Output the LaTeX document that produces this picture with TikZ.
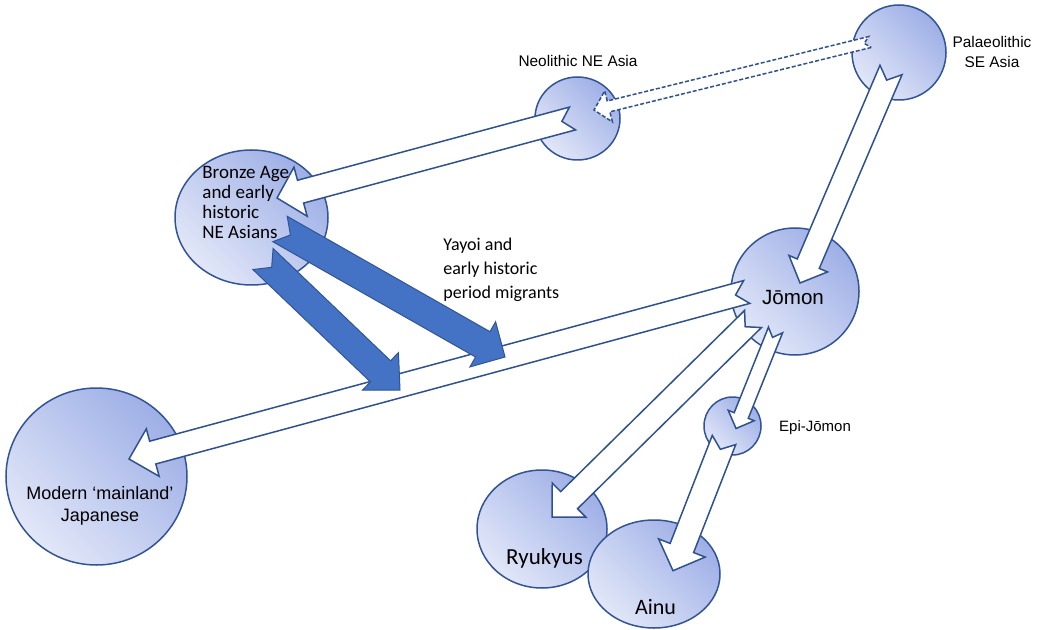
\documentclass[tikz,border=0pt]{standalone}
\usepackage{fontspec}
\setmainfont{Liberation Sans}
\newfontfamily\calibri{Carlito}
\usetikzlibrary{calc,shapes.geometric}

\definecolor{popedge}{RGB}{50,84,150}
\definecolor{poplight}{RGB}{226,231,248}
\definecolor{popdark}{RGB}{158,175,230}
\definecolor{flowedge}{RGB}{47,82,143}
\definecolor{migfill}{RGB}{68,114,196}
\definecolor{migedge}{RGB}{47,85,151}

% notched block arrow: [style] {tail} {tip} {half shaft} {half head} {head length} {notch}
\newcommand{\notcharrow}[7][]{%
  \coordinate (hb) at ($(#3)!#6!(#2)$);
  \draw[#1] ($(#2)!#4!90:(#3)$) -- ($(hb)!#4!-90:(#2)$) -- ($(hb)!#5!-90:(#2)$) -- (#3)
    -- ($(hb)!#5!90:(#2)$) -- ($(hb)!#4!90:(#2)$) -- ($(#2)!#4!-90:(#3)$)
    -- ($(#2)!#7!(#3)$) -- cycle;
}

\begin{document}
\begin{tikzpicture}
[x=0.5pt,y=-0.5pt
,pop/.style={ellipse,draw=popedge,line width=0.75pt,top color=popdark,bottom color=poplight,shading angle=-45,inner sep=0pt}
,flow/.style={draw=flowedge,fill=white,line width=0.75pt,line join=miter}
,guess/.style={flow,dash pattern=on 2pt off 1pt}
,mig/.style={draw=migedge,fill=migfill,line width=0.5pt,line join=miter}
,lbl/.style={inner sep=0pt,align=center}
,side/.style={inner sep=0pt,align=left,anchor=west}
]
\useasboundingbox (0,0) rectangle (1037,630);

% populations
\node[pop,minimum width=47pt,minimum height=47.5pt] (palaeo) at (899,52.5) {};
\node[pop,minimum width=42.5pt,minimum height=41.5pt] (neo) at (577.5,118.5) {};
\node[pop,minimum width=76.5pt,minimum height=67.5pt] (bronze) at (251.5,217.5) {};
\node[pop,minimum width=64pt,minimum height=63.5pt] (jomon) at (795,291.5) {};
\node[pop,minimum width=28.5pt,minimum height=29pt] (epi) at (732.5,426) {};
\node[pop,minimum width=90.5pt,minimum height=88.5pt] (modern) at (96.5,476.5) {};
\node[pop,minimum width=65pt,minimum height=59pt] (ryukyu) at (542,529) {};
\node[pop,minimum width=66pt,minimum height=54pt] (ainu) at (654,574) {};

% arrow ends
\coordinate (pj-t) at (891,70);    \coordinate (pj-h) at (800,283);
\coordinate (pn-t) at (870,42);    \coordinate (pn-h) at (594,110);
\coordinate (nb-t) at (572.5,118.5); \coordinate (nb-h) at (277,198);
\coordinate (jm-t) at (746.7,292); \coordinate (jm-h) at (129,459);
\coordinate (jr-t) at (753,319);   \coordinate (jr-h) at (552,517);
\coordinate (je-t) at (775.5,330); \coordinate (je-h) at (736,428.5);
\coordinate (ea-t) at (724,440);   \coordinate (ea-h) at (673,570.7);
\coordinate (by1-t) at (263,259);  \coordinate (by1-h) at (400,390);
\coordinate (by2-t) at (280,229);  \coordinate (by2-h) at (505,357);

% gene flow
\notcharrow[flow]{pj-t}{pj-h}{6pt}{10.5pt}{10.5pt}{5.5pt}
\notcharrow[guess]{pn-t}{pn-h}{2.8pt}{8pt}{7.5pt}{3pt}
\notcharrow[flow]{nb-t}{nb-h}{5.9pt}{12.7pt}{12.2pt}{5.5pt}
\notcharrow[flow]{jm-t}{jm-h}{5.9pt}{12.3pt}{12.3pt}{5.8pt}
\notcharrow[flow]{jr-t}{jr-h}{6pt}{12pt}{12pt}{5.5pt}
\notcharrow[flow]{je-t}{je-h}{3.8pt}{7pt}{7pt}{4pt}
\notcharrow[flow]{ea-t}{ea-h}{6.3pt}{12.5pt}{12.2pt}{5pt}

% Yayoi migrants
\notcharrow[mig]{by1-t}{by1-h}{7.3pt}{13pt}{13.5pt}{6pt}
\notcharrow[mig]{by2-t}{by2-h}{7.3pt}{13pt}{12.8pt}{6pt}

% labels
\node[lbl,font=\fontsize{7.7}{10}\selectfont] (neo-l) at (578,61) {Neolithic NE Asia};
\node[lbl,font=\fontsize{7.7}{10}\selectfont] (palaeo-l) at (992,52) {Palaeolithic\\SE Asia};
\node[side,font=\calibri\fontsize{9.5}{10}\selectfont] (bronze-l) at (202,202) {Bronze Age\\and early\\historic\\NE Asians};
\node[side,font=\calibri\fontsize{9}{12}\selectfont] (yayoi-l) at (443,270) {Yayoi and\\early historic\\period migrants};
\node[lbl,font=\fontsize{10.3}{12}\selectfont] (jomon-l) at (793,298) {Jōmon};
\node[lbl,font=\fontsize{7.5}{10}\selectfont] (epi-l) at (815,428) {Epi-Jōmon};
\node[lbl,font=\fontsize{9}{11}\selectfont] (modern-l) at (100,506) {Modern ‘mainland’\\Japanese};
\node[lbl,font=\calibri\fontsize{11.5}{13}\selectfont] (ryukyu-l) at (544.5,558) {Ryukyus};
\node[lbl,font=\calibri\fontsize{11}{13}\selectfont] (ainu-l) at (655.5,607) {Ainu};
\end{tikzpicture}
\end{document}
